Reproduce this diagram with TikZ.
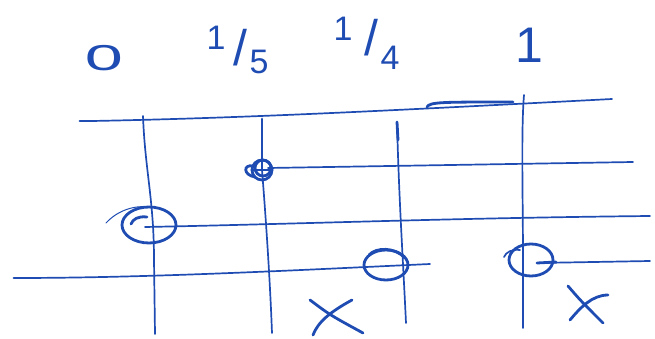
\documentclass[tikz,border=0pt]{standalone}
\usepackage{fontspec}
\setmainfont{Liberation Sans}
\definecolor{ink}{RGB}{30,76,178}
\tikzset{
  thinpen/.style={draw=ink, line width=1.7pt, line cap=round, line join=round},
  pen/.style={draw=ink, line width=2.8pt, line cap=round, line join=round},
  digit/.style={text=ink, inner sep=0pt, font=\fontsize{34}{34}\selectfont},
  slash/.style={text=ink, inner sep=0pt, font=\fontsize{50}{50}\selectfont}
}
\begin{document}
\begin{tikzpicture}[x=1pt,y=-1pt]
\useasboundingbox (0,0) rectangle (655,339);
% labels
\node[digit, xscale=1.9, font=\fontsize{36}{36}\selectfont] (l0) at (104,58) {0};
\node[digit] (l5a) at (216,38) {1};
\node[slash] (l5s) at (240,48) {/};
\node[digit] (l5b) at (259,62) {5};
\node[digit] (l4a) at (343,29) {1};
\node[slash] (l4s) at (371,38) {/};
\node[digit] (l4b) at (390,58) {4};
\node[digit, font=\fontsize{50}{50}\selectfont] (l1) at (529,45) {1};
% horizontal lines
\draw[thinpen] (80,121) -- (92,121) .. controls (250,118) and (400,110) .. (612,99);
\draw[pen] (80,121) -- (95,121);
\draw[pen] (427,107) .. controls (430,102) and (440,102) .. (513,102);
\draw[thinpen] (268,168) -- (633,162);
\draw[thinpen] (145,227) .. controls (300,224) and (450,218) .. (650,216);
\draw[thinpen] (14,278) .. controls (150,278) and (300,270) .. (430,264);
\draw[pen] (14,278) -- (25,278);
\draw[thinpen] (537,263) -- (650,261);
\draw[pen] (537,263) -- (556,262);
% vertical lines
\draw[thinpen] (143,116) .. controls (145,170) and (154,200) .. (154,260) -- (155,334);
\draw[pen] (262,119) -- (262,170);
\draw[thinpen] (262,170) .. controls (266,220) and (270,280) .. (272,333);
\draw[thinpen] (397,122) .. controls (399,200) and (403,260) .. (406,323);
\draw[pen] (397,122) -- (398,140);
\draw[thinpen] (524,95) .. controls (521,130) and (523,200) .. (523,262) -- (523,328);
% circles
\coordinate (c1) at (149,225);
\draw[pen] (c1) ellipse [x radius=27, y radius=18];
\draw[pen] (147,217) .. controls (138,216) and (133,219) .. (131,224);
\draw[thinpen, line width=1pt] (106,223) .. controls (118,210) and (135,205) .. (150,207);
\coordinate (c2) at (262,170);
\draw[pen] (c2) circle [radius=10];
\draw[pen] (263,168) circle [radius=8];
\draw[pen] (253,166) .. controls (243,164) and (243,175) .. (255,177);
\draw[pen] (252,170) -- (272,170);
\coordinate (c3) at (386,265);
\draw[pen] (c3) ellipse [x radius=22, y radius=15];
\draw[pen] (369,255) .. controls (376,247) and (395,247) .. (405,258);
\coordinate (c4) at (531,260);
\draw[pen] (c4) ellipse [x radius=22, y radius=16];
\draw[thinpen] (504,257) .. controls (506,252) and (512,249) .. (520,250);
% crosses
\draw[pen] (310,300) .. controls (330,315) .. (363,333);
\draw[pen] (352,300) .. controls (330,312) and (318,322) .. (313,335);
\draw[pen] (568,286) .. controls (580,300) .. (603,323);
\draw[pen] (608,295) .. controls (592,295) and (580,308) .. (570,320);
\end{tikzpicture}
\end{document}
